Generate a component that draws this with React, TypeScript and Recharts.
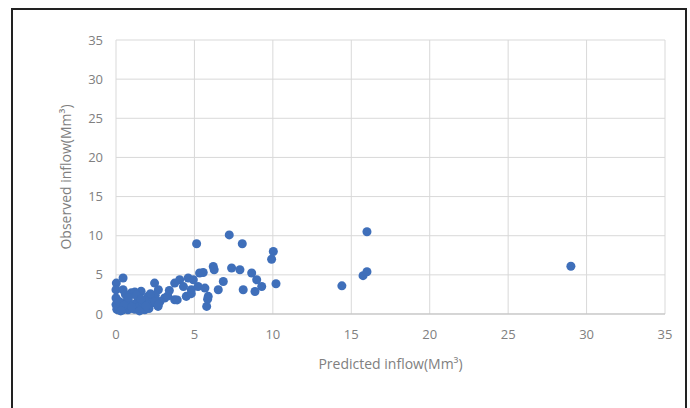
import React from 'react';
import { ScatterChart, Scatter, XAxis, YAxis, ZAxis, CartesianGrid, Label } from 'recharts';

const predicted: number[] = [
  0.45, 0.02, 0.0, 0.45, 0.98, 1.6, 2.46, 2.7, 3.74, 4.06, 4.6, 5.33,
  0.0, 0.0, 0.13, 0.76, 1.3, 1.6, 2.25, 2.68, 2.04, 3.1, 3.74, 4.48, 4.8, 5.23,
  0.76, 1.83, 0.05, 0.1, 0.2, 0.3, 0.4, 0.6, 0.9, 1.1, 1.2, 1.4, 1.5, 1.7, 1.9,
  2.1, 2.3, 2.5, 2.8, 0.6, 1.2, 2.0, 3.3, 3.4, 3.9, 4.3, 4.8,
  0.2, 0.5, 0.8, 1.0, 1.3, 1.6, 1.9, 2.2, 2.5, 2.7, 0.3, 1.5,
  5.14, 7.22, 8.05, 10.03, 9.92, 6.2, 6.26, 5.56, 7.37, 7.9, 8.65, 8.97, 9.29,
  10.2, 8.11, 8.86, 6.84, 6.52, 4.93, 5.67, 5.88, 5.78, 5.84,
  14.4, 16.0, 15.75, 16.0, 29.0,
];

const observed: number[] = [
  4.6, 3.95, 3.1, 3.1, 2.7, 2.9, 3.95, 3.1, 3.95, 4.37, 4.6, 5.23,
  2.04, 1.2, 0.55, 1.82, 1.4, 0.77, 1.4, 0.97, 2.25, 2.04, 1.82, 2.25, 3.1, 3.52,
  0.55, 0.55, 0.6, 1.0, 0.8, 1.2, 0.5, 2.5, 0.7, 1.2, 0.6, 2.2, 1.0, 1.4, 1.8,
  0.7, 1.5, 2.4, 1.6, 1.5, 2.8, 1.2, 2.3, 3.0, 1.8, 3.5, 2.6,
  1.6, 1.1, 2.1, 0.9, 2.4, 1.9, 1.0, 2.6, 1.6, 1.2, 0.4, 0.4,
  8.97, 10.1, 8.97, 7.99, 7.0, 6.07, 5.65, 5.3, 5.87, 5.65, 5.23, 4.37, 3.52,
  3.86, 3.1, 2.88, 4.16, 3.1, 4.37, 3.31, 2.25, 0.97, 1.9,
  3.6, 10.5, 4.9, 5.4, 6.1,
];

const ticks: number[] = [0, 5, 10, 15, 20, 25, 30, 35];

const data = predicted.map((p, i) => ({ x: p, y: observed[i] }));

const tickStyle = { fill: '#808080', fontSize: 13, fontFamily: 'Open Sans, sans-serif' };

export default function App() {
  return (
    <div style={{ position: 'absolute', left: 0, top: 0, width: 690, height: 408, background: '#fff', overflow: 'hidden' }}>
      <div
        style={{
          position: 'absolute',
          left: 11,
          top: 8,
          width: 672,
          height: 420,
          borderLeft: '2px solid #222',
          borderTop: '2px solid #222',
          borderRight: '2px solid #222',
        }}
      />
      <div style={{ position: 'absolute', left: 0, top: 0 }}>
        <ScatterChart width={690} height={408} margin={{ top: 40, right: 25, left: 0, bottom: 6 }}>
          <CartesianGrid stroke="#d9d9d9" strokeWidth={1} />
          <XAxis
            type="number"
            dataKey="x"
            domain={[0, 35]}
            ticks={ticks}
            interval={0}
            tickLine={false}
            tickSize={0}
            tickMargin={16}
            axisLine={{ stroke: '#bfbfbf' }}
            tick={tickStyle}
            height={88}
          >
            <Label
              value="Predicted inflow(Mm³)"
              position="center"
              dy={6}
              style={{ fill: '#808080', fontSize: 14, fontFamily: 'Open Sans, sans-serif' }}
            />
          </XAxis>
          <YAxis
            type="number"
            dataKey="y"
            domain={[0, 35]}
            ticks={ticks}
            interval={0}
            tickLine={false}
            tickSize={0}
            tickMargin={13}
            axisLine={false}
            tick={tickStyle}
            width={116}
          >
            <Label
              value="Observed inflow(Mm³)"
              position="center"
              angle={-90}
              dx={8}
              style={{ fill: '#808080', fontSize: 14, fontFamily: 'Open Sans, sans-serif', textAnchor: 'middle' }}
            />
          </YAxis>
          <ZAxis range={[85, 85]} />
          <Scatter data={data} fill="#3f6fba" isAnimationActive={false} />
        </ScatterChart>
      </div>
    </div>
  );
}
